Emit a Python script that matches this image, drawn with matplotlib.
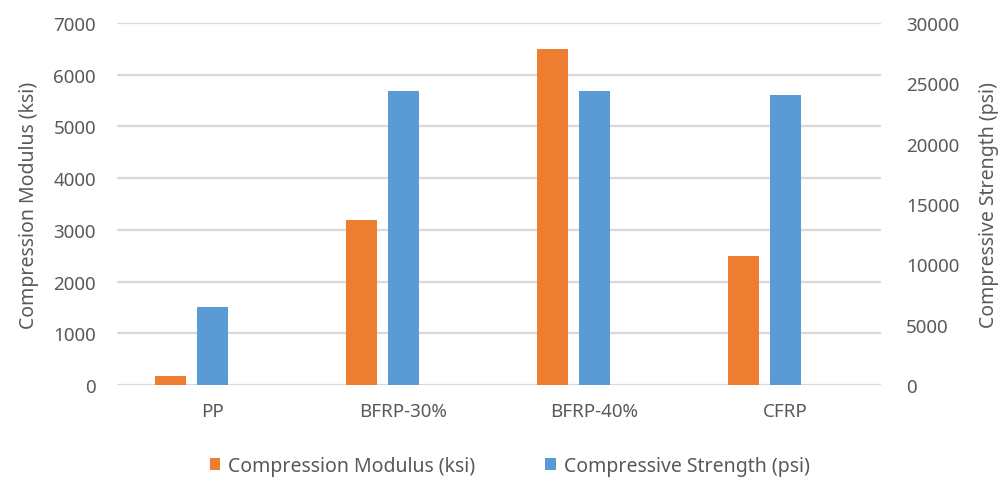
import matplotlib.pyplot as plt
import numpy as np

plt.rcParams['font.family'] = ['Noto Sans', 'DejaVu Sans']

# Data
materials = ['PP', 'BFRP-30%', 'BFRP-40%', 'CFRP']
modulus_ksi = [170, 3200, 6500, 2500]
strength_psi = [6500, 24350, 24350, 24000]

orange = '#ED7D31'
blue = '#5B9BD5'
text_col = '#595959'
grid_col = '#D9D9D9'

fig = plt.figure(figsize=(10.03, 4.81), dpi=100)
ax = fig.add_axes([0.1166, 0.1975, 0.7617, 0.7525])
ax2 = ax.twinx()

x = np.arange(len(materials))
w = 0.165
ax.bar(x - 0.22, modulus_ksi, width=w, color=orange, zorder=3,
       label='Compression Modulus (ksi)')
ax2.bar(x, strength_psi, width=w, color=blue, zorder=3,
        label='Compressive Strength (psi)')

ax.set_xlim(-0.5, 3.5)
ax.set_ylim(0, 7000)
ax2.set_ylim(0, 30000)
ax.set_yticks(range(0, 7001, 1000))
ax2.set_yticks(range(0, 30001, 5000))
ax.set_xticks(x)
ax.set_xticklabels(materials)

# Gridlines follow the left axis
ax.yaxis.grid(True, color=grid_col, linewidth=1.6, zorder=0)
ax.set_axisbelow(True)

for a in (ax, ax2):
    for s in a.spines.values():
        s.set_visible(False)
    a.tick_params(length=0, colors=text_col, labelsize=13.5)
ax.tick_params(axis='y', pad=15)
ax2.tick_params(axis='y', pad=18)
ax.tick_params(axis='x', pad=12)

ax.set_ylabel('Compression Modulus (ksi)', color=text_col, fontsize=14,
              labelpad=10)
ax2.set_ylabel('Compressive Strength (psi)', color=text_col, fontsize=14,
               labelpad=14)

h1, l1 = ax.get_legend_handles_labels()
h2, l2 = ax2.get_legend_handles_labels()
fig.legend(h1 + h2, l1 + l2, loc='lower center', bbox_to_anchor=(0.508, -0.028),
           ncol=2, frameon=False, fontsize=14, labelcolor=text_col,
           handlelength=0.55, handleheight=0.55, handletextpad=0.4,
           columnspacing=3.6)

fig.savefig('out.png', dpi=100)
